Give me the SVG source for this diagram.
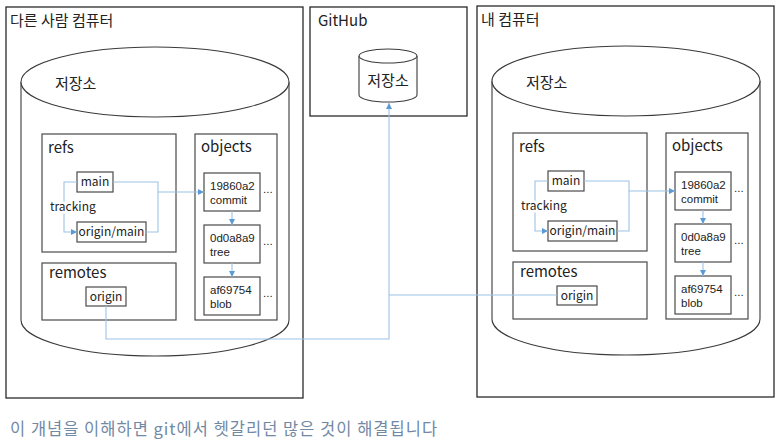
<svg xmlns="http://www.w3.org/2000/svg" width="780" height="442" viewBox="0 0 780 442">
<style>
text{font-family:"Noto Sans CJK KR","Noto Sans",sans-serif;fill:#222}
.frame{fill:#fff;stroke:#2a2a2a;stroke-width:1.3}
.box{fill:#fff;stroke:#4a4a4a;stroke-width:1.2}
.cyl{fill:#fff;stroke:#3a3a3a;stroke-width:1.1}
.t15{font-size:15px}
.t12{font-size:12px}
.obj{font-family:"Liberation Sans","Noto Sans CJK KR",sans-serif;font-size:11.5px}
.mid{text-anchor:middle}
.wire{fill:none;stroke:#9dc3e6;stroke-width:1.1}
.arr{marker-end:url(#ah)}
.lbl{font-size:12px;paint-order:stroke;stroke:#fff;stroke-width:5px;stroke-linejoin:round}
.cap{font-size:16.5px;letter-spacing:1px;fill:#7189a4}
</style>
<defs>
<marker id="ah" viewBox="0 0 6 6" refX="6" refY="3" markerWidth="6" markerHeight="6" markerUnits="userSpaceOnUse" orient="auto">
<path d="M0,0 L6,3 L0,6 Z" fill="#5b9bd5"/>
</marker>
</defs>
<rect width="780" height="442" fill="#fff"/>

<!-- Other person's computer -->
<g id="other-computer">
<rect class="frame" x="6" y="7" width="297" height="391"/>
<text class="t15" x="10" y="26">다른 사람 컴퓨터</text>
<g id="other-repo">
<path class="cyl" d="M21,82 V320 A134,36 0 0 0 289,320 V82"/>
<ellipse class="cyl" cx="155" cy="82" rx="134" ry="35"/>
<text class="t15" x="55" y="89">저장소</text>
</g>
<g id="other-refs"><rect class="box" x="42" y="134" width="134" height="118"/><text class="t15" x="48" y="153">refs</text></g>
<g id="other-objects"><rect class="box" x="195" y="134" width="82" height="186"/><text class="t15" x="201" y="152">objects</text></g>
<g id="other-main"><rect class="box" x="77" y="172" width="36" height="20"/><text class="t12 mid" x="95" y="186">main</text></g>
<g id="other-origin-main"><rect class="box" x="77" y="222" width="69" height="20"/><text class="t12 mid" x="111.5" y="236">origin/main</text></g>
<g id="other-commit"><rect class="box" x="204" y="173" width="56" height="38"/><text class="obj" x="210" y="190">19860a2</text><text class="obj" x="210" y="204">commit</text><text class="obj" x="263" y="193">...</text></g>
<g id="other-tree"><rect class="box" x="204" y="225" width="56" height="38"/><text class="obj" x="210" y="242">0d0a8a9</text><text class="obj" x="210" y="256">tree</text><text class="obj" x="263" y="245">...</text></g>
<g id="other-blob"><rect class="box" x="204" y="277" width="56" height="38"/><text class="obj" x="210" y="294">af69754</text><text class="obj" x="210" y="308">blob</text><text class="obj" x="263" y="297">...</text></g>
<g id="other-remotes"><rect class="box" x="42" y="263" width="134" height="57"/><text class="t15" x="49" y="278">remotes</text></g>
<g id="other-origin"><rect class="box" x="86" y="287" width="40" height="19"/><text class="t12 mid" x="106" y="301">origin</text></g>
</g>

<!-- GitHub -->
<g id="github">
<rect class="frame" x="310" y="7" width="157" height="109"/>
<text class="t15" x="318" y="26">GitHub</text>
<g id="github-repo">
<path class="cyl" d="M359,56 V95 A29,7 0 0 0 417,95 V56"/>
<ellipse class="cyl" cx="388" cy="56" rx="29" ry="7"/>
<text class="t15 mid" x="388" y="86">저장소</text>
</g>
</g>

<!-- My computer -->
<g id="my-computer" transform="translate(471,-1)">
<rect class="frame" x="6" y="7" width="297" height="391"/>
<text class="t15" x="10" y="26">내 컴퓨터</text>
<g id="my-repo">
<path class="cyl" d="M21,82 V320 A134,36 0 0 0 289,320 V82"/>
<ellipse class="cyl" cx="155" cy="82" rx="134" ry="35"/>
<text class="t15" x="55" y="89">저장소</text>
</g>
<g id="my-refs"><rect class="box" x="42" y="134" width="134" height="118"/><text class="t15" x="48" y="153">refs</text></g>
<g id="my-objects"><rect class="box" x="195" y="134" width="82" height="186"/><text class="t15" x="201" y="152">objects</text></g>
<g id="my-main"><rect class="box" x="77" y="172" width="36" height="20"/><text class="t12 mid" x="95" y="186">main</text></g>
<g id="my-origin-main"><rect class="box" x="77" y="222" width="69" height="20"/><text class="t12 mid" x="111.5" y="236">origin/main</text></g>
<g id="my-commit"><rect class="box" x="204" y="173" width="56" height="38"/><text class="obj" x="210" y="190">19860a2</text><text class="obj" x="210" y="204">commit</text><text class="obj" x="263" y="193">...</text></g>
<g id="my-tree"><rect class="box" x="204" y="225" width="56" height="38"/><text class="obj" x="210" y="242">0d0a8a9</text><text class="obj" x="210" y="256">tree</text><text class="obj" x="263" y="245">...</text></g>
<g id="my-blob"><rect class="box" x="204" y="277" width="56" height="38"/><text class="obj" x="210" y="294">af69754</text><text class="obj" x="210" y="308">blob</text><text class="obj" x="263" y="297">...</text></g>
<g id="my-remotes"><rect class="box" x="42" y="263" width="134" height="57"/><text class="t15" x="49" y="278">remotes</text></g>
<g id="my-origin"><rect class="box" x="86" y="287" width="40" height="19"/><text class="t12 mid" x="106" y="301">origin</text></g>
</g>

<!-- Connectors -->
<g id="connectors">
<g id="other-connectors">
<path class="wire arr" d="M113,182 H158 V192 H204"/>
<path class="wire" d="M146,232 H158 V192"/>
<path class="wire arr" d="M77,182 H64 V232 H77"/>
<text class="lbl" x="50" y="211">tracking</text>
<path class="wire arr" d="M232,211 V225"/>
<path class="wire arr" d="M232,263 V277"/>
</g>
<g id="my-connectors" transform="translate(471,-1)">
<path class="wire arr" d="M113,182 H158 V192 H204"/>
<path class="wire" d="M146,232 H158 V192"/>
<path class="wire arr" d="M77,182 H64 V232 H77"/>
<text class="lbl" x="50" y="211">tracking</text>
<path class="wire arr" d="M232,211 V225"/>
<path class="wire arr" d="M232,263 V277"/>
</g>
<path class="wire arr" d="M106,306 V339 H389 V103"/>
<path class="wire" d="M557,295 H389"/>
</g>

<text class="cap" x="10" y="435">이 개념을 이해하면 git에서 헷갈리던 많은 것이 해결됩니다</text>
</svg>
